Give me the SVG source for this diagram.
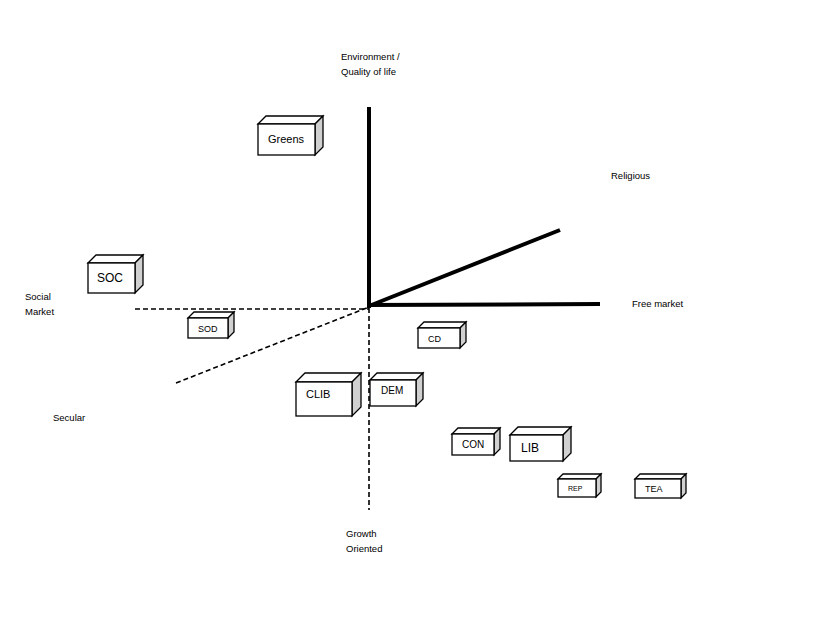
<svg xmlns="http://www.w3.org/2000/svg" width="819" height="625" viewBox="0 0 819 625">
<style>
text{font-family:"Liberation Sans",Arial,sans-serif;fill:#000}
.l{font-size:9.5px}
.f{fill:#fff;stroke:#000;stroke-width:1.3}
.s{fill:#d0d0d0;stroke:#000;stroke-width:1.3}
.ax{stroke:#000;stroke-width:4;fill:none}
.da{stroke:#000;stroke-width:1.6;stroke-dasharray:5,3;fill:none}
</style>
<rect width="819" height="625" fill="#fff"/>
<g id="connectors">
<line class="da" x1="369" y1="308" x2="369" y2="510"/>
<line class="da" x1="135" y1="309" x2="369" y2="309"/>
<line class="da" x1="176" y1="383" x2="369" y2="307"/>
<line class="ax" x1="369" y1="107" x2="369" y2="308"/>
<line class="ax" x1="367" y1="305" x2="600" y2="304"/>
<line class="ax" x1="369" y1="306" x2="560" y2="230"/>
</g>
<g id="labels">
<text class="l" x="341" y="60">Environment /</text>
<text class="l" x="341" y="75">Quality of life</text>
<text class="l" x="611" y="179">Religious</text>
<text class="l" x="632" y="307">Free market</text>
<text class="l" x="25" y="300">Social</text>
<text class="l" x="25" y="315">Market</text>
<text class="l" x="53" y="421">Secular</text>
<text class="l" x="346" y="537">Growth</text>
<text class="l" x="346" y="552">Oriented</text>
</g>
<g id="Greens"><path class="f" d="M258,124 L266,116 L323,116 L315,124 Z"/><path class="s" d="M315,124 L323,116 L323,147 L315,155 Z"/><rect class="f" x="258" y="124" width="57" height="31"/><text x="268" y="143" font-size="11">Greens</text></g>
<g id="SOC"><path class="f" d="M88,263 L96,255 L143,255 L135,263 Z"/><path class="s" d="M135,263 L143,255 L143,285 L135,293 Z"/><rect class="f" x="88" y="263" width="47" height="30"/><text x="97" y="282" font-size="12">SOC</text></g>
<g id="SOD"><path class="f" d="M188,318 L194,312 L234,312 L228,318 Z"/><path class="s" d="M228,318 L234,312 L234,332 L228,338 Z"/><rect class="f" x="188" y="318" width="40" height="20"/><text x="198" y="332" font-size="9">SOD</text></g>
<g id="CD"><path class="f" d="M418,328 L424,322 L466,322 L460,328 Z"/><path class="s" d="M460,328 L466,322 L466,342 L460,348 Z"/><rect class="f" x="418" y="328" width="42" height="20"/><text x="428" y="342" font-size="9">CD</text></g>
<g id="CLIB"><path class="f" d="M296,382 L305,373 L361,373 L352,382 Z"/><path class="s" d="M352,382 L361,373 L361,407 L352,416 Z"/><rect class="f" x="296" y="382" width="56" height="34"/><text x="306" y="398" font-size="11">CLIB</text></g>
<g id="DEM"><path class="f" d="M370,380 L377,373 L423,373 L416,380 Z"/><path class="s" d="M416,380 L423,373 L423,399 L416,406 Z"/><rect class="f" x="370" y="380" width="46" height="26"/><text x="381" y="394" font-size="10">DEM</text></g>
<g id="CON"><path class="f" d="M452,434 L458,428 L500,428 L494,434 Z"/><path class="s" d="M494,434 L500,428 L500,449 L494,455 Z"/><rect class="f" x="452" y="434" width="42" height="21"/><text x="462" y="448" font-size="10">CON</text></g>
<g id="LIB"><path class="f" d="M510,435 L518,427 L571,427 L563,435 Z"/><path class="s" d="M563,435 L571,427 L571,453 L563,461 Z"/><rect class="f" x="510" y="435" width="53" height="26"/><text x="521" y="452" font-size="12">LIB</text></g>
<g id="REP"><path class="f" d="M558,479 L563,474 L601,474 L596,479 Z"/><path class="s" d="M596,479 L601,474 L601,492 L596,497 Z"/><rect class="f" x="558" y="479" width="38" height="18"/><text x="568" y="491" font-size="7">REP</text></g>
<g id="TEA"><path class="f" d="M635,479 L640,474 L686,474 L681,479 Z"/><path class="s" d="M681,479 L686,474 L686,493 L681,498 Z"/><rect class="f" x="635" y="479" width="46" height="19"/><text x="645" y="492" font-size="9">TEA</text></g>
</svg>
